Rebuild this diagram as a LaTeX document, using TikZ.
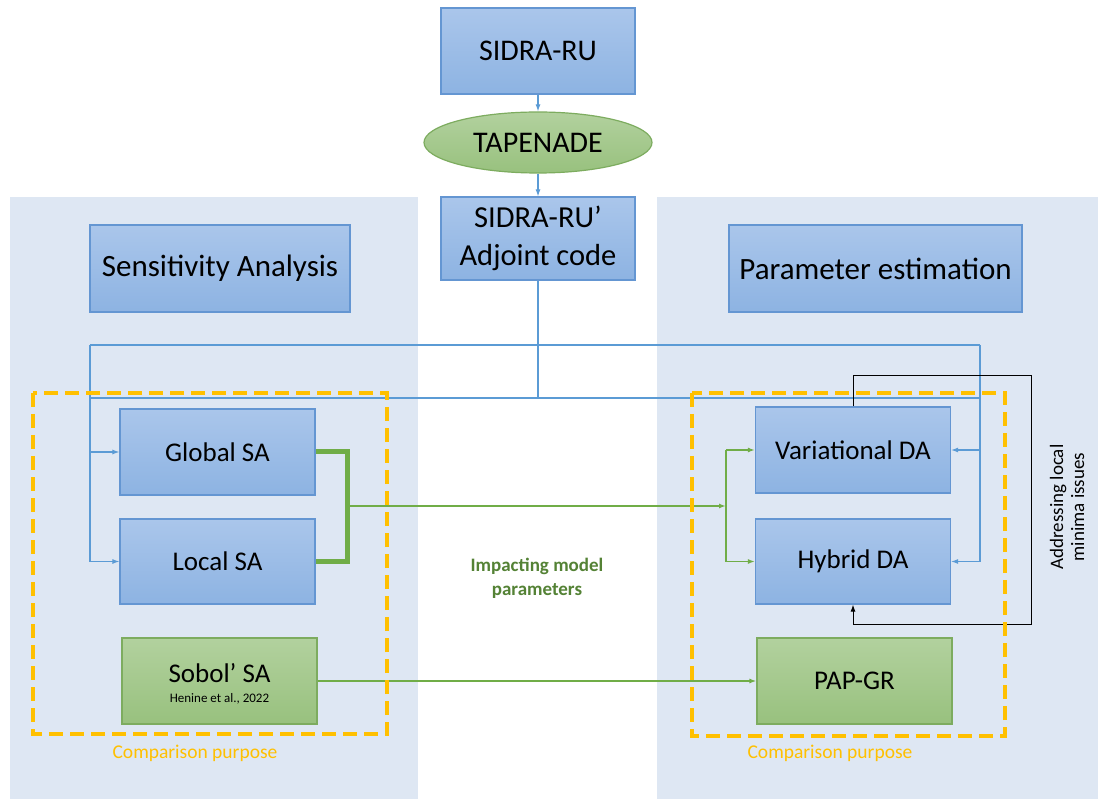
\documentclass[tikz,border=0pt]{standalone}
\usepackage{fontspec}
\setmainfont{Carlito}
\usetikzlibrary{shapes.geometric,arrows.meta}
\definecolor{panelc}{RGB}{222,231,243}
\definecolor{btop}{RGB}{170,198,235}
\definecolor{bbot}{RGB}{141,179,226}
\definecolor{bbord}{RGB}{100,150,210}
\definecolor{gtop}{RGB}{178,209,158}
\definecolor{gbot}{RGB}{152,193,126}
\definecolor{gbord}{RGB}{125,172,95}
\definecolor{bl}{RGB}{91,155,213}
\definecolor{gl}{RGB}{112,173,71}
\definecolor{orc}{RGB}{255,192,0}
\definecolor{gtext}{RGB}{84,130,53}
\tikzset{
  bluebox/.style={draw=bbord,line width=1.2pt,top color=btop,bottom color=bbot,minimum width=195pt,minimum height=86pt,inner sep=0pt,align=center,font=\fontsize{27}{33}\selectfont},
  greenbox/.style={draw=gbord,line width=1.2pt,top color=gtop,bottom color=gbot,minimum width=195pt,minimum height=86pt,inner sep=0pt,align=center,font=\fontsize{27}{33}\selectfont},
  bline/.style={draw=bl,line width=1.1pt},
  gline/.style={draw=gl,line width=1.4pt},
  gthick/.style={draw=gl,line width=5pt,line join=miter},
  tip/.style={-{Latex[length=7pt,width=5pt]}},
  orbox/.style={draw=orc,line width=4pt,dash pattern=on 14pt off 7pt},
  cmplabel/.style={text=orc,font=\fontsize{19.5}{23}\selectfont},
}
\begin{document}
\begin{tikzpicture}[x=1pt,y=-1pt]
\useasboundingbox (0,0) rectangle (1098,799);
\fill[white] (0,0) rectangle (1098,799);
\fill[panelc] (10,197) rectangle (418,799);
\fill[panelc] (657,197) rectangle (1098,799);

% top chain
\node[bluebox,minimum width=194pt,minimum height=86pt,font=\fontsize{30}{38}\selectfont] (sidra) at (538,51) {SIDRA-RU};
\node[ellipse,draw=gbord,line width=1.2pt,top color=gtop,bottom color=gbot,minimum width=228pt,minimum height=61pt,inner sep=0pt,font=\fontsize{30}{36}\selectfont] (tap) at (538,142.5) {TAPENADE};
\node[bluebox,minimum width=194pt,minimum height=83pt,font=\fontsize{30.5}{38}\selectfont] (adj) at (538,238.5) {SIDRA-RU’\\Adjoint code};

\node[bluebox,minimum width=260pt,minimum height=87pt,font=\fontsize{31}{36}\selectfont] (sens) at (220,268.5) {Sensitivity Analysis};
\node[bluebox,minimum width=293pt,minimum height=87pt,font=\fontsize{31}{36}\selectfont] (param) at (875.5,268.5) {Parameter estimation};

\node[bluebox] (glob) at (217.5,452) {Global SA};
\node[bluebox,minimum height=85pt] (loc) at (217.5,561.5) {Local SA};
\node[greenbox] (sob) at (219.5,681) {};
\node[font=\fontsize{27}{33}\selectfont] (sobt) at (219.5,673) {Sobol’ SA};
\node[font=\fontsize{13}{15}\selectfont] (sobr) at (219.5,699) {Henine et al., 2022};

\node[bluebox] (var) at (853,450) {Variational DA};
\node[bluebox,minimum height=85pt] (hyb) at (853,561.5) {Hybrid DA};
\node[greenbox] (pap) at (854.5,681) {PAP-GR};

% top arrows
\draw[bline,tip] (sidra) -- (tap);
\draw[bline,tip] (tap) -- (adj);

% blue distribution lines
\coordinate (j) at (538,398);
\coordinate (tl) at (90,345);
\coordinate (tr) at (980,345);
\coordinate (ml) at (90,398);
\coordinate (mr) at (980,398);
\coordinate (lb) at (90,561.5);
\coordinate (rb) at (980,561.5);
\draw[bline] (adj.south) -- (j);
\draw[bline] (tl) -- (tr);
\draw[bline] (ml) -- (mr);
\draw[bline] (tl) -- (lb);
\draw[bline] (tr) -- (rb);
\draw[bline,tip] (tl |- glob.west) -- (glob.west);
\draw[bline,tip] (lb) -- (loc.west);
\draw[bline,tip] (tr |- var.east) -- (var.east);
\draw[bline,tip] (rb) -- (hyb.east);

% green connectors
\coordinate (gb) at (347,506);
\coordinate (gr) at (726,506);
\draw[gthick] (glob.east) -- (glob.east -| gb) -- (loc.east -| gb) -- (loc.east);
\draw[gline,tip] (gb) -- (gr);
\draw[gline] (gr |- var.west) -- (gr |- hyb.west);
\draw[gline,tip] (gr |- var.west) -- (var.west);
\draw[gline,tip] (gr |- hyb.west) -- (hyb.west);
\draw[gline,tip] (sob) -- (pap);

% black loop
\coordinate (lp1) at (1031,376);
\coordinate (lp2) at (1031,624);
\draw[black,line width=1pt,tip] (var.north) |- (lp1) -- (lp2) -| (hyb.south);

% orange dashed boxes
\draw[orbox] (33,393) rectangle (387,734);
\draw[orbox] (692,393) rectangle (1005,736);

% labels
\node[cmplabel] (cl) at (195,753) {Comparison purpose};
\node[cmplabel] (cr) at (830,753) {Comparison purpose};
\node[rotate=90,align=center,font=\fontsize{19}{21}\selectfont] (addr) at (1067,507) {Addressing local\\minima issues};
\node[align=center,text=gtext,font=\bfseries\fontsize{19}{24}\selectfont] (imp) at (537,578) {Impacting model\\parameters};
\end{tikzpicture}
\end{document}
